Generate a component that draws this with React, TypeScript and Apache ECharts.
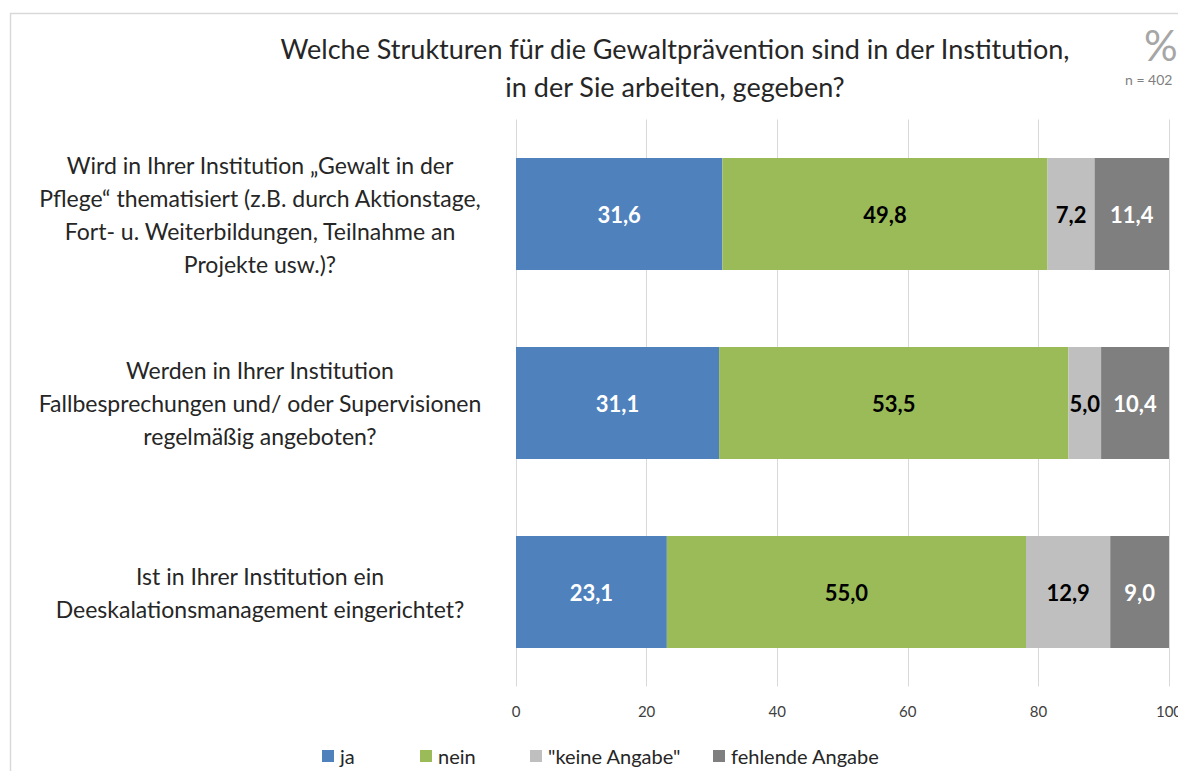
import React, { useEffect, useRef } from "react";
import * as echarts from "echarts";

const categories = [
  "Wird in Ihrer Institution „Gewalt in der\nPflege“ thematisiert (z.B. durch Aktionstage,\nFort- u. Weiterbildungen, Teilnahme an\nProjekte usw.)?",
  "Werden in Ihrer Institution\nFallbesprechungen und/ oder Supervisionen\nregelmäßig angeboten?",
  "Ist in Ihrer Institution ein\nDeeskalationsmanagement eingerichtet?",
];
const ja = [31.6, 31.1, 23.1];
const nein = [49.8, 53.5, 55.0];
const keineAngabe = [7.2, 5.0, 12.9];
const fehlendeAngabe = [11.4, 10.4, 9.0];
const seriesNames = ["ja", "nein", "\"keine Angabe\"", "fehlende Angabe"];
const xTicks = [0, 20, 40, 60, 80, 100];
const titleLines = [
  "Welche Strukturen für die Gewaltprävention sind in der Institution,",
  "in der Sie arbeiten, gegeben?",
];

const FONT = "Lato, 'Open Sans', sans-serif";

export default function App() {
  const ref = useRef<HTMLDivElement>(null);
  useEffect(() => {
    if (!ref.current) return;
    const chart = echarts.init(ref.current, undefined, { renderer: "svg" });
    const fmt = (p: any) => Number(p.value).toFixed(1).replace(".", ",");
    const colors = ["#4F81BD", "#9BBB59", "#BFBFBF", "#7F7F7F"];
    const labelColors = ["#ffffff", "#000000", "#000000", "#ffffff"];
    const values = [ja, nein, keineAngabe, fehlendeAngabe];
    const legendLefts = [322, 420, 530, 713];
    chart.setOption({
      animation: false,
      textStyle: { fontFamily: FONT },
      grid: {
        left: 516,
        right: 9,
        top: 119.5,
        bottom: 84.5,
        containLabel: false,
        outerBoundsMode: "none",
      },
      xAxis: {
        type: "value",
        min: xTicks[0],
        max: xTicks[xTicks.length - 1],
        interval: 20,
        axisLine: { show: false },
        axisTick: { show: false },
        axisLabel: { fontSize: 15, color: "#404040", margin: 17, fontFamily: FONT },
        splitLine: { show: true, lineStyle: { color: "#d9d9d9", width: 1 } },
      },
      yAxis: {
        type: "category",
        inverse: true,
        data: categories,
        axisLine: { show: false },
        axisTick: { show: false },
        axisLabel: {
          fontSize: 23,
          lineHeight: 33,
          color: "#262626",
          align: "center",
          margin: 256,
          fontFamily: FONT,
        },
      },
      legend: seriesNames.map((name, i) => ({
        left: legendLefts[i],
        top: 746,
        itemWidth: 12,
        itemHeight: 12,
        icon: "rect",
        padding: 0,
        textStyle: { fontSize: 20, color: "#262626", fontFamily: FONT, padding: [0, 0, 0, 1] },
        data: [name],
      })),
      graphic: [
        {
          type: "rect",
          silent: true,
          shape: { x: 10.5, y: 13.5, width: 1300, height: 900 },
          style: { fill: "none", stroke: "#d9d9d9", lineWidth: 1.5 },
        },
        {
          type: "text",
          x: 675,
          y: 67,
          style: {
            text: titleLines.join("\n"),
            align: "center",
            verticalAlign: "middle",
            fontSize: 27,
            lineHeight: 38,
            fill: "#262626",
            fontFamily: FONT,
          },
        },
        {
          type: "text",
          x: 1144,
          y: 45,
          style: {
            text: "%",
            align: "left",
            verticalAlign: "middle",
            fontSize: 42,
            fill: "#a6a6a6",
            fontFamily: FONT,
          },
        },
        {
          type: "text",
          x: 1125,
          y: 79,
          style: {
            text: "n = 402",
            align: "left",
            verticalAlign: "middle",
            fontSize: 14,
            fill: "#7f7f7f",
            fontFamily: FONT,
          },
        },
      ],
      series: seriesNames.map((name, i) => ({
        name,
        type: "bar",
        stack: "total",
        barWidth: 112,
        data: values[i],
        itemStyle: { color: colors[i] },
        label: {
          show: true,
          position: "inside",
          formatter: fmt,
          color: labelColors[i],
          fontSize: 22,
          fontWeight: "bold",
          fontFamily: FONT,
        },
      })),
    });
    return () => chart.dispose();
  }, []);
  return (
    <div
      ref={ref}
      style={{ position: "absolute", left: 0, top: 0, width: 1178, height: 771, overflow: "hidden", background: "#fff" }}
    />
  );
}
